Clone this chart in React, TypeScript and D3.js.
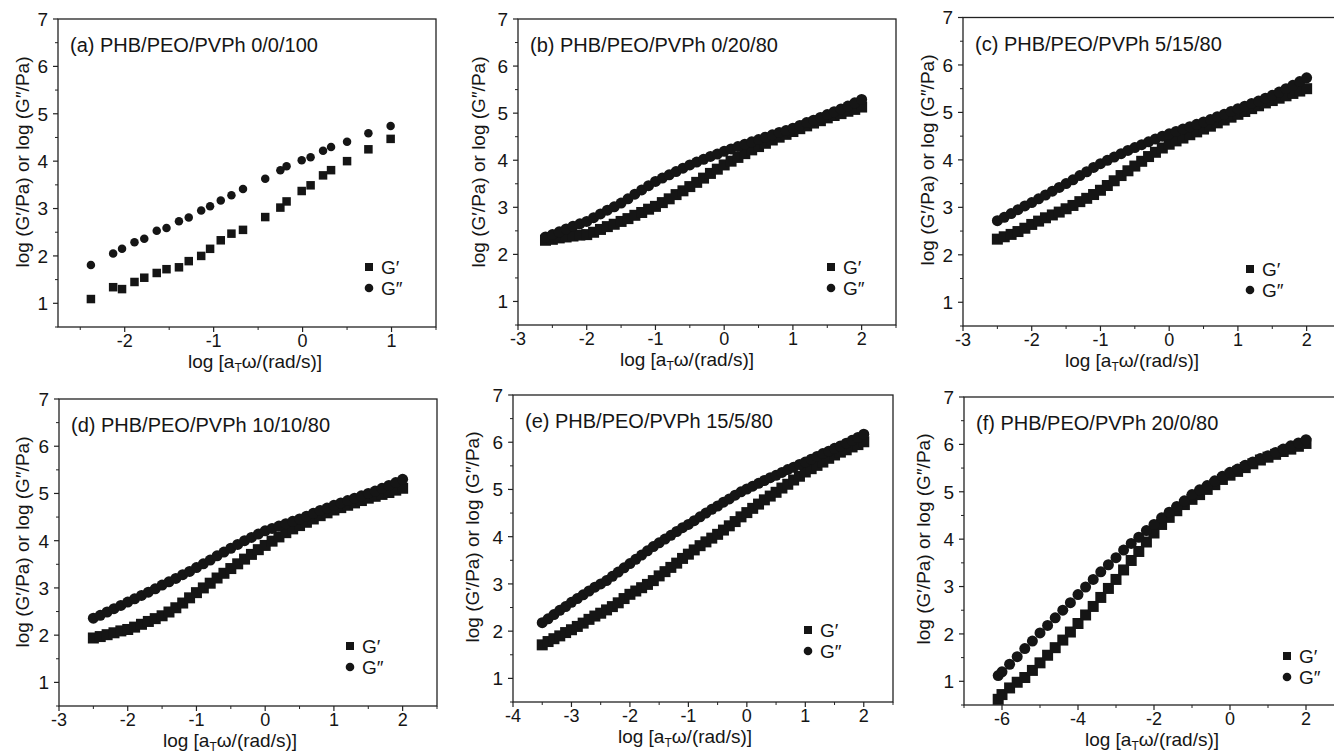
import React from 'react';
import * as d3 from 'd3';

// (a) PHB/PEO/PVPh 0/0/100 -- sparse points
const aX = [-2.38, -2.13, -2.03, -1.89, -1.78, -1.64, -1.53, -1.39, -1.28, -1.14, -1.04, -0.92, -0.80, -0.67, -0.42, -0.25, -0.18, -0.01, 0.09, 0.23, 0.32, 0.50, 0.74, 0.99];
const aGp = [1.09, 1.34, 1.30, 1.45, 1.54, 1.64, 1.72, 1.76, 1.89, 2.00, 2.15, 2.33, 2.47, 2.55, 2.82, 3.02, 3.15, 3.37, 3.49, 3.70, 3.81, 4.00, 4.25, 4.47];
const aGpp = [1.81, 2.05, 2.15, 2.29, 2.36, 2.53, 2.59, 2.73, 2.81, 2.96, 3.05, 3.17, 3.28, 3.41, 3.63, 3.81, 3.89, 4.02, 4.08, 4.22, 4.30, 4.41, 4.59, 4.74];

// (b) 0/20/80
const bX = [-2.6, -2.5, -2.4, -2.3, -2.2, -2.1, -2.0,
  -1.9, -1.8, -1.7, -1.6, -1.5, -1.4, -1.3, -1.2, -1.1, -1.0,
  -0.9, -0.8, -0.7, -0.6, -0.5, -0.4, -0.3, -0.2, -0.1, 0.0,
  0.1, 0.2, 0.3, 0.4, 0.5, 0.6, 0.7, 0.8, 0.9, 1.0,
  1.1, 1.2, 1.3, 1.4, 1.5, 1.6, 1.7, 1.8, 1.9, 2.0];
const bGpp = [2.37, 2.42, 2.48, 2.54, 2.60, 2.65, 2.70,
  2.78, 2.86, 2.94, 3.01, 3.09, 3.18, 3.28, 3.37, 3.46, 3.55,
  3.62, 3.69, 3.76, 3.83, 3.90, 3.96, 4.02, 4.08, 4.13, 4.19,
  4.24, 4.29, 4.34, 4.39, 4.44, 4.49, 4.54, 4.59, 4.63, 4.68,
  4.74, 4.80, 4.85, 4.91, 4.97, 5.03, 5.09, 5.15, 5.22, 5.29];
const bGp = [2.30, 2.32, 2.35, 2.37, 2.39, 2.41, 2.42,
  2.47, 2.53, 2.59, 2.64, 2.70, 2.76, 2.83, 2.89, 2.96, 3.02,
  3.10, 3.18, 3.27, 3.35, 3.44, 3.53, 3.62, 3.72, 3.81, 3.90,
  3.98, 4.06, 4.14, 4.22, 4.29, 4.36, 4.43, 4.49, 4.55, 4.61,
  4.67, 4.73, 4.79, 4.84, 4.90, 4.95, 4.99, 5.04, 5.08, 5.13];

// (c) 5/15/80
const cX = [-2.5, -2.4, -2.3, -2.2, -2.1, -2.0,
  -1.9, -1.8, -1.7, -1.6, -1.5, -1.4, -1.3, -1.2, -1.1, -1.0,
  -0.9, -0.8, -0.7, -0.6, -0.5, -0.4, -0.3, -0.2, -0.1, 0.0,
  0.1, 0.2, 0.3, 0.4, 0.5, 0.6, 0.7, 0.8, 0.9, 1.0,
  1.1, 1.2, 1.3, 1.4, 1.5, 1.6, 1.7, 1.8, 1.9, 2.0];
const cGpp = [2.72, 2.79, 2.87, 2.95, 3.03, 3.10,
  3.18, 3.26, 3.34, 3.42, 3.50, 3.58, 3.67, 3.75, 3.84, 3.92,
  3.99, 4.06, 4.13, 4.20, 4.26, 4.32, 4.38, 4.44, 4.50, 4.55,
  4.60, 4.65, 4.70, 4.75, 4.80, 4.85, 4.91, 4.96, 5.02, 5.08,
  5.13, 5.19, 5.24, 5.30, 5.36, 5.43, 5.50, 5.57, 5.65, 5.73];
const cGp = [2.33, 2.38, 2.43, 2.49, 2.56, 2.64,
  2.71, 2.78, 2.84, 2.90, 2.97, 3.04, 3.12, 3.19, 3.27, 3.36,
  3.46, 3.56, 3.67, 3.77, 3.87, 3.97, 4.07, 4.16, 4.25, 4.33,
  4.40, 4.46, 4.53, 4.59, 4.65, 4.71, 4.78, 4.84, 4.90, 4.96,
  5.02, 5.08, 5.14, 5.20, 5.25, 5.30, 5.35, 5.40, 5.45, 5.50];

// (d) 10/10/80
const dX = [-2.5, -2.4, -2.3, -2.2, -2.1, -2.0,
  -1.9, -1.8, -1.7, -1.6, -1.5, -1.4, -1.3, -1.2, -1.1, -1.0,
  -0.9, -0.8, -0.7, -0.6, -0.5, -0.4, -0.3, -0.2, -0.1, 0.0,
  0.1, 0.2, 0.3, 0.4, 0.5, 0.6, 0.7, 0.8, 0.9, 1.0,
  1.1, 1.2, 1.3, 1.4, 1.5, 1.6, 1.7, 1.8, 1.9, 2.0];
const dGpp = [2.36, 2.42, 2.49, 2.56, 2.63, 2.70,
  2.77, 2.84, 2.91, 2.98, 3.06, 3.13, 3.20, 3.28, 3.35, 3.43,
  3.51, 3.59, 3.68, 3.76, 3.84, 3.92, 4.00, 4.07, 4.14, 4.21,
  4.26, 4.31, 4.36, 4.41, 4.46, 4.52, 4.58, 4.64, 4.69, 4.75,
  4.80, 4.85, 4.90, 4.95, 5.00, 5.05, 5.11, 5.17, 5.23, 5.30];
const dGp = [1.94, 1.97, 2.01, 2.05, 2.09, 2.12,
  2.17, 2.23, 2.29, 2.35, 2.41, 2.49, 2.58, 2.68, 2.79, 2.90,
  3.00, 3.10, 3.21, 3.31, 3.41, 3.51, 3.61, 3.71, 3.81, 3.90,
  3.99, 4.08, 4.17, 4.25, 4.32, 4.39, 4.46, 4.53, 4.59, 4.65,
  4.70, 4.75, 4.80, 4.85, 4.90, 4.94, 4.98, 5.02, 5.07, 5.11];

// (e) 15/5/80
const eX = [-3.5, -3.4, -3.3, -3.2, -3.1, -3.0,
  -2.9, -2.8, -2.7, -2.6, -2.5, -2.4, -2.3, -2.2, -2.1, -2.0,
  -1.9, -1.8, -1.7, -1.6, -1.5, -1.4, -1.3, -1.2, -1.1, -1.0,
  -0.9, -0.8, -0.7, -0.6, -0.5, -0.4, -0.3, -0.2, -0.1, 0.0,
  0.1, 0.2, 0.3, 0.4, 0.5, 0.6, 0.7, 0.8, 0.9, 1.0,
  1.1, 1.2, 1.3, 1.4, 1.5, 1.6, 1.7, 1.8, 1.9, 2.0];
const eGpp = [2.18, 2.26, 2.35, 2.44, 2.52, 2.61,
  2.69, 2.77, 2.85, 2.93, 3.00, 3.07, 3.16, 3.25, 3.34, 3.43,
  3.52, 3.61, 3.70, 3.79, 3.87, 3.95, 4.03, 4.11, 4.19, 4.26,
  4.34, 4.42, 4.50, 4.58, 4.65, 4.73, 4.80, 4.88, 4.95, 5.01,
  5.07, 5.13, 5.19, 5.25, 5.30, 5.36, 5.42, 5.47, 5.53, 5.58,
  5.64, 5.70, 5.76, 5.81, 5.87, 5.92, 5.98, 6.04, 6.10, 6.17];
const eGp = [1.71, 1.78, 1.84, 1.90, 1.97, 2.03,
  2.10, 2.17, 2.25, 2.32, 2.38, 2.45, 2.52, 2.60, 2.69, 2.78,
  2.85, 2.92, 2.99, 3.07, 3.17, 3.26, 3.35, 3.44, 3.54, 3.63,
  3.72, 3.81, 3.89, 3.97, 4.05, 4.14, 4.23, 4.32, 4.42, 4.51,
  4.60, 4.69, 4.78, 4.86, 4.94, 5.03, 5.11, 5.20, 5.28, 5.37,
  5.44, 5.51, 5.58, 5.66, 5.73, 5.79, 5.84, 5.90, 5.95, 6.01];

// (f) 20/0/80
const fX = [-6.1, -6.0, -5.8, -5.6, -5.4, -5.2, -5.0,
  -4.8, -4.6, -4.4, -4.2, -4.0, -3.8, -3.6, -3.4, -3.2, -3.0,
  -2.8, -2.6, -2.4, -2.2, -2.0, -1.8, -1.6, -1.4, -1.2, -1.0,
  -0.8, -0.6, -0.4, -0.2, 0.0, 0.2, 0.4, 0.6, 0.8, 1.0,
  1.2, 1.4, 1.6, 1.8, 2.0];
const fGpp = [1.12, 1.20, 1.36, 1.52, 1.69, 1.85, 2.02,
  2.18, 2.34, 2.50, 2.66, 2.83, 2.99, 3.15, 3.31, 3.46, 3.61,
  3.77, 3.91, 4.04, 4.18, 4.31, 4.45, 4.57, 4.69, 4.81, 4.94,
  5.04, 5.13, 5.23, 5.33, 5.41, 5.48, 5.56, 5.63, 5.70, 5.76,
  5.83, 5.90, 5.97, 6.03, 6.10];
const fGp = [0.62, 0.72, 0.86, 0.98, 1.08, 1.23, 1.39,
  1.55, 1.71, 1.87, 2.04, 2.22, 2.40, 2.58, 2.77, 2.96, 3.15,
  3.35, 3.55, 3.74, 3.94, 4.13, 4.31, 4.46, 4.60, 4.73, 4.84,
  4.94, 5.05, 5.15, 5.26, 5.35, 5.43, 5.51, 5.59, 5.67, 5.73,
  5.79, 5.85, 5.90, 5.96, 6.02];

const yMajor = [1, 2, 3, 4, 5, 6, 7];
const yMinor = [0.5, 1.5, 2.5, 3.5, 4.5, 5.5, 6.5];

const FONT = '"Liberation Sans", Arial, Helvetica, sans-serif';
const INK = '#151515';

type Spec = {
  title: string;
  box: [number, number, number, number]; // left, top, right, bottom
  xDomain: [number, number];
  xMajor: number[];
  xMinor: number[];
  xs: number[];
  gp: number[];
  gpp: number[];
  size: number;
  legend: [number, number];
  xLabelX: number;
  yLabel: [number, number];
};

const panels: Spec[] = [
  {
    title: '(a) PHB/PEO/PVPh 0/0/100', box: [58, 19, 436, 327], xDomain: [-2.75, 1.5],
    xMajor: [-2, -1, 0, 1], xMinor: [-2.5, -1.5, -0.5, 0.5, 1.5],
    xs: aX, gp: aGp, gpp: aGpp, size: 8.5, legend: [369, 267], xLabelX: 255, yLabel: [22, 162],
  },
  {
    title: '(b) PHB/PEO/PVPh 0/20/80', box: [518, 19, 896, 325], xDomain: [-3, 2.5],
    xMajor: [-3, -2, -1, 0, 1, 2], xMinor: [-2.5, -1.5, -0.5, 0.5, 1.5, 2.5],
    xs: bX, gp: bGp, gpp: bGpp, size: 11, legend: [831, 267], xLabelX: 687, yLabel: [478, 162],
  },
  {
    title: '(c) PHB/PEO/PVPh 5/15/80', box: [963, 17.5, 1341, 326], xDomain: [-3, 2.5],
    xMajor: [-3, -2, -1, 0, 1, 2], xMinor: [-2.5, -1.5, -0.5, 0.5, 1.5, 2.5],
    xs: cX, gp: cGp, gpp: cGpp, size: 11, legend: [1250, 269], xLabelX: 1132, yLabel: [927, 160],
  },
  {
    title: '(d) PHB/PEO/PVPh 10/10/80', box: [59, 399, 437, 706], xDomain: [-3, 2.5],
    xMajor: [-3, -2, -1, 0, 1, 2], xMinor: [-2.5, -1.5, -0.5, 0.5, 1.5, 2.5],
    xs: dX, gp: dGp, gpp: dGpp, size: 11, legend: [350, 646], xLabelX: 230, yLabel: [22, 542],
  },
  {
    title: '(e) PHB/PEO/PVPh 15/5/80', box: [513, 395, 893, 702], xDomain: [-4, 2.5],
    xMajor: [-4, -3, -2, -1, 0, 1, 2], xMinor: [-3.5, -2.5, -1.5, -0.5, 0.5, 1.5, 2.5],
    xs: eX, gp: eGp, gpp: eGpp, size: 11, legend: [808, 630], xLabelX: 685, yLabel: [472, 537],
  },
  {
    title: '(f) PHB/PEO/PVPh 20/0/80', box: [964, 397, 1344, 705], xDomain: [-7, 3],
    xMajor: [-6, -4, -2, 0, 2], xMinor: [-7, -5, -3, -1, 1, 3],
    xs: fX, gp: fGp, gpp: fGpp, size: 11, legend: [1287, 656], xLabelX: 1152, yLabel: [923, 539],
  },
];

function Panel({ p }: { p: Spec }) {
  const [l, t, r, b] = p.box;
  const x = d3.scaleLinear().domain(p.xDomain).range([l, r]);
  const y = d3.scaleLinear().domain([0.5, 7]).range([b, t]);
  const n = Math.min(p.xs.length, p.gp.length, p.gpp.length);
  const idx = d3.range(n);
  const s = p.size;
  return (
    <g>
      {/* frame */}
      <rect x={l} y={t} width={r - l} height={b - t} fill="none" stroke="#222" strokeWidth={1.3} />
      {/* y ticks */}
      {yMajor.map((v) => (
        <g key={'ym' + v}>
          <line x1={l - 5} x2={l} y1={y(v)} y2={y(v)} stroke="#222" strokeWidth={1.2} />
          <text x={l - 10} y={y(v)} dy="0.36em" textAnchor="end" fontSize={19} fill={INK}>{v}</text>
        </g>
      ))}
      {yMinor.map((v) => (
        <line key={'yn' + v} x1={l - 3} x2={l} y1={y(v)} y2={y(v)} stroke="#222" strokeWidth={1} />
      ))}
      {/* x ticks */}
      {p.xMajor.map((v) => (
        <g key={'xm' + v}>
          <line x1={x(v)} x2={x(v)} y1={b} y2={b + 5} stroke="#222" strokeWidth={1.2} />
          <text x={x(v)} y={b + 20} textAnchor="middle" fontSize={18} fill={INK}>{String(v)}</text>
        </g>
      ))}
      {p.xMinor.map((v) => (
        <line key={'xn' + v} x1={x(v)} x2={x(v)} y1={b} y2={b + 3} stroke="#222" strokeWidth={1} />
      ))}
      {/* data */}
      {idx.map((i) => (
        <rect key={'sq' + i} x={x(p.xs[i]) - s / 2} y={y(p.gp[i]) - s / 2} width={s} height={s} fill={INK} />
      ))}
      {idx.map((i) => (
        <circle key={'ci' + i} cx={x(p.xs[i])} cy={y(p.gpp[i])} r={s / 2} fill={INK} />
      ))}
      {/* title */}
      <text x={l + 12} y={t + 33} fontSize={20} fill={INK}>{p.title}</text>
      {/* legend */}
      <rect x={p.legend[0] - 4} y={p.legend[1] - 4} width={8} height={8} fill={INK} />
      <text x={p.legend[0] + 12} y={p.legend[1]} dy="0.36em" fontSize={19} fill={INK}>G′</text>
      <circle cx={p.legend[0]} cy={p.legend[1] + 21} r={4.3} fill={INK} />
      <text x={p.legend[0] + 12} y={p.legend[1] + 21} dy="0.36em" fontSize={19} fill={INK}>G″</text>
      {/* axis labels */}
      <text x={p.xLabelX} y={b + 41} textAnchor="middle" fontSize={19} fill={INK}>
        log [a<tspan fontSize={12} dy={4}>T</tspan><tspan dy={-4}>ω/(rad/s)]</tspan>
      </text>
      <text
        transform={`translate(${p.yLabel[0]},${p.yLabel[1]}) rotate(-90)`}
        dy="0.36em" textAnchor="middle" fontSize={19} fill={INK}
      >
        log (G′/Pa) or log (G″/Pa)
      </text>
    </g>
  );
}

export default function App() {
  return (
    <svg
      width={1334}
      height={753}
      style={{ position: 'absolute', left: 0, top: 0, background: '#fff', fontFamily: FONT }}
    >
      <rect width={1334} height={753} fill="#fff" />
      {panels.map((p) => (
        <Panel key={p.title} p={p} />
      ))}
    </svg>
  );
}
